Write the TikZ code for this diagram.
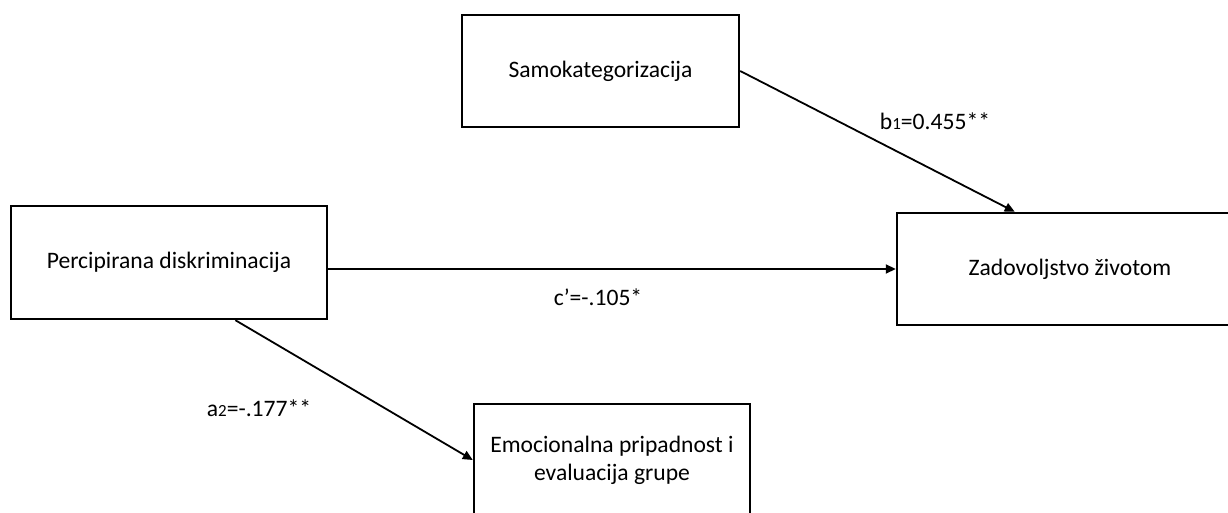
\documentclass[tikz,border=0pt]{standalone}
\usepackage{fontspec}
\setmainfont{Carlito}
\usetikzlibrary{arrows.meta}
\tikzset{
    var-box/.style = {draw=black, fill=white, line width=1.2pt, rectangle, align=center, inner sep=0pt, font=\fontsize{11.8}{14}\selectfont},
    path-arrow/.style = {draw=black, line width=0.9pt, -{Triangle[length=5pt, width=4.5pt]}},
    path-label/.style = {font=\fontsize{11.8}{14}\selectfont, inner sep=0pt},
}
\newcommand{\smallidx}[1]{{\fontsize{8.5}{8.5}\selectfont #1}}

\begin{document}
\begin{tikzpicture}[x=0.5pt, y=-0.5pt]
\useasboundingbox (0,0) rectangle (1228,513);
\clip (0,0) rectangle (1228,513);

% variables
\node [var-box, minimum width=138.5pt, minimum height=56pt] (sam) at (600.5,71) {Samokategorizacija};
\node [var-box, minimum width=158pt, minimum height=56.5pt] (perc) at (169,262.5) {Percipirana diskriminacija};
\node [var-box, minimum width=173pt, minimum height=56pt] (zad) at (1070,269) {Zadovoljstvo životom};
\node [var-box, minimum width=138pt, minimum height=56pt] (emo) at (612,460) {Emocionalna pripadnost i\\evaluacija grupe};

% paths
\draw [path-arrow] (sam.east) -- (zad.134);
\draw [path-arrow] (perc.east |- zad.west) -- (zad.west);
\draw [path-arrow] (perc.319) -- (emo.west);

\node [path-label] (b1) at (935,121) {b\smallidx{1}=0.455**};
\node [path-label] (c) at (598,297) {c’=-.105*};
\node [path-label] (a2) at (259,408) {a\smallidx{2}=-.177**};
\end{tikzpicture}
\end{document}
